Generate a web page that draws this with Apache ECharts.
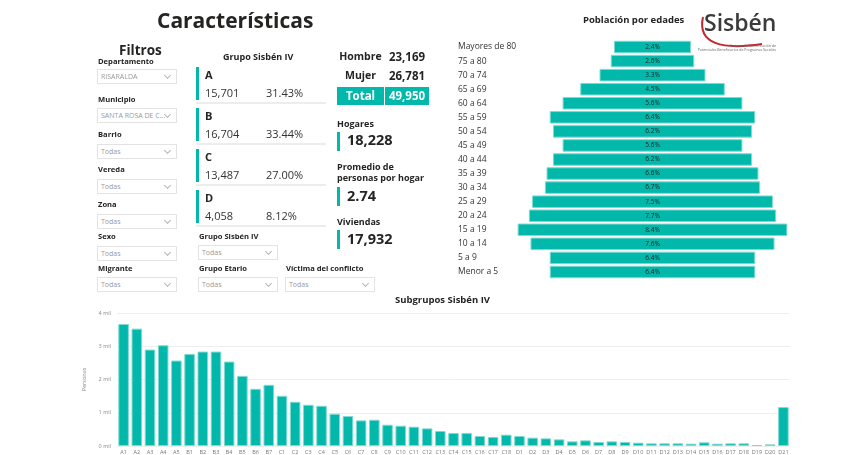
<!DOCTYPE html>
<html>
<head>
<meta charset="utf-8">
<script src="https://cdn.jsdelivr.net/npm/echarts@6/dist/echarts.min.js"></script>
<style>
  body { margin: 0; background: #fff; }
  #wrap { position: relative; width: 852px; height: 455px; overflow: hidden; font-family: 'Open Sans', sans-serif; color: #252423; }
  #chart { position: absolute; left: 0; top: 0; width: 852px; height: 455px; }
  .abs { position: absolute; white-space: nowrap; line-height: 1; }
  .dd { position: absolute; height: 13px; border: 1px solid #e3e3e3; font-size: 7px; color: #9a9a9a; line-height: 13px; padding-left: 3px; box-sizing: content-box; background: #fff; }
  .dd i { position: absolute; right: 6px; top: 3px; width: 4px; height: 4px; border-right: 1px solid #b5b5b5; border-bottom: 1px solid #b5b5b5; transform: rotate(45deg); }
  .tbar { position: absolute; width: 3px; background: #01B8AA; }
  .sep { position: absolute; height: 2px; background: #ededed; }
</style>
</head>
<body>
<div id="wrap">
  <div id="chart"></div>
  <div id="panel"></div>
</div>
<script>
// pirámide de edades (%)
var ageGroups = ['Mayores de 80', '75 a 80', '70 a 74', '65 a 69', '60 a 64', '55 a 59', '50 a 54', '45 a 49',
  '40 a 44', '35 a 39', '30 a 34', '25 a 29', '20 a 24', '15 a 19', '10 a 14', '5 a 9', 'Menor a 5'];
var agePct = [2.4, 2.6, 3.3, 4.5, 5.6, 6.4, 6.2, 5.6, 6.2, 6.6, 6.7, 7.5, 7.7, 8.4, 7.6, 6.4, 6.4];

// subgrupos sisben IV (personas)
var subgroups = ['A1', 'A2', 'A3', 'A4', 'A5', 'B1', 'B2', 'B3', 'B4', 'B5', 'B6', 'B7',
  'C1', 'C2', 'C3', 'C4', 'C5', 'C6', 'C7', 'C8', 'C9', 'C10', 'C11', 'C12', 'C13', 'C14', 'C15', 'C16', 'C17', 'C18',
  'D1', 'D2', 'D3', 'D4', 'D5', 'D6', 'D7', 'D8', 'D9', 'D10', 'D11', 'D12', 'D13', 'D14', 'D15', 'D16', 'D17', 'D18', 'D19', 'D20', 'D21'];
var subgroupPeople = [3670, 3530, 2900, 3030, 2570, 2770, 2840, 2840, 2540, 2110, 1720, 1840,
  1510, 1330, 1240, 1210, 970, 900, 770, 790, 640, 610, 580, 530, 450, 390, 390, 300, 270, 340,
  300, 250, 230, 200, 140, 170, 120, 140, 120, 100, 80, 80, 80, 70, 110, 70, 80, 80, 30, 50, 1170];
var yTicks = [0, 1000, 2000, 3000, 4000];

// tarjetas
var groupNames = ['A', 'B', 'C', 'D'];
var groupCounts = ['15,701', '16,704', '13,487', '4,058'];
var groupPcts = ['31.43%', '33.44%', '27.00%', '8.12%'];
var sexNames = ['Hombre', 'Mujer', 'Total'];
var sexCounts = ['23,169', '26,781', '49,950'];

var teal = '#01B8AA';
var fam = "'Open Sans', sans-serif";
var panel = document.getElementById('panel');

function put(html, x, y, size, css) {
  var d = document.createElement('div');
  d.className = 'abs';
  d.style.left = x + 'px';
  d.style.top = (y - size * 0.55) + 'px';
  d.style.fontSize = size + 'px';
  d.style.cssText += css || '';
  d.innerHTML = html;
  panel.appendChild(d);
  return d;
}
function box(cls, x, y, w, h, css) {
  var d = document.createElement('div');
  d.className = cls;
  d.style.left = x + 'px';
  d.style.top = y + 'px';
  d.style.width = w + 'px';
  if (h) d.style.height = h + 'px';
  d.style.cssText += css || '';
  panel.appendChild(d);
  return d;
}
function dropdown(label, value, x, ly, top, w) {
  put(label, x + 1, ly, 7.6, 'font-weight:bold;');
  var d = box('dd', x, top, w - 5, 0);
  d.innerHTML = value + '<i></i>';
}

// filtros
put('Filtros', 119, 51, 13.5, 'font-weight:bold;');
var filtros = [['Departamento', 'RISARALDA', 62, 69], ['Municipio', 'SANTA ROSA DE C...', 100, 108],
  ['Barrio', 'Todas', 135, 144], ['Vereda', 'Todas', 170, 179], ['Zona', 'Todas', 205, 214],
  ['Sexo', 'Todas', 237, 246], ['Migrante', 'Todas', 269, 277]];
filtros.forEach(function (f) { dropdown(f[0], f[1], 97, f[2], f[3], 80); });
dropdown('Grupo Sisbén IV', 'Todas', 198, 237, 245, 80);
dropdown('Grupo Etario', 'Todas', 198, 269, 277, 80);
dropdown('Víctima del conflicto', 'Todas', 285, 269, 277, 90);

// grupo sisben IV
put('Grupo Sisbén IV', 223, 57, 9, 'font-weight:bold;');
var cardTop = [67, 108, 149, 190];
groupNames.forEach(function (g, i) {
  var t = cardTop[i];
  box('tbar', 196, t, 3, 33);
  put(g, 205, t + 8, 11, 'font-weight:bold;');
  put(groupCounts[i], 205, t + 26, 11, 'color:#333;');
  put(groupPcts[i], 266, t + 26, 11, 'color:#333;');
  box('sep', 196, t + 35, 130, 2);
});

// hombre / mujer / total
put(sexNames[0], 337, 57, 10.5, 'font-weight:bold;width:47px;text-align:center;');
put(sexCounts[0], 385, 57, 11.5, 'font-weight:bold;width:44px;text-align:center;');
put(sexNames[1], 337, 76, 10.5, 'font-weight:bold;width:47px;text-align:center;');
put(sexCounts[1], 385, 76, 11.5, 'font-weight:bold;width:44px;text-align:center;');
box('abs', 337, 87, 92, 18, 'background:' + teal + ';');
box('abs', 384, 87, 1, 18, 'background:#fff;');
put(sexNames[2], 337, 96, 11.5, 'font-weight:bold;color:#fff;width:47px;text-align:center;');
put(sexCounts[2], 385, 96, 11.5, 'font-weight:bold;color:#fff;width:44px;text-align:center;');

// indicadores
put('Hogares', 337, 124, 9, 'font-weight:bold;');
box('tbar', 337, 132, 3, 19);
put('18,228', 347, 141, 14.5, 'font-weight:bold;');
put('Promedio de', 337, 167, 9, 'font-weight:bold;');
put('personas por hogar', 337, 178, 9, 'font-weight:bold;');
box('tbar', 337, 187, 3, 19);
put('2.74', 347, 197, 14.5, 'font-weight:bold;');
put('Viviendas', 337, 222, 9, 'font-weight:bold;');
box('tbar', 337, 230, 3, 19);
put('17,932', 347, 240, 14.5, 'font-weight:bold;');

// graficos
var chart = echarts.init(document.getElementById('chart'));
var pyrMax = 9;
var pyrBase = agePct.map(function (v) { return (pyrMax - v) / 2; });

var option = {
  animation: false,
  textStyle: { fontFamily: fam },
  title: [
    { text: 'Características', left: 157, top: 12, padding: 0, textStyle: { fontSize: 21, fontWeight: 'bold', color: '#252423', fontFamily: fam } },
    { text: 'Población por edades', left: 583, top: 15, padding: 0, textStyle: { fontSize: 9.5, fontWeight: 'bold', color: '#252423', fontFamily: fam } },
    { text: 'Subgrupos Sisbén IV', left: 395, top: 295, padding: 0, textStyle: { fontSize: 9.5, fontWeight: 'bold', color: '#252423', fontFamily: fam } }
  ],
  grid: [
    { left: 508, width: 289, top: 40, height: 239 },
    { left: 117, right: 62, top: 313, bottom: 8 }
  ],
  xAxis: [
    { gridIndex: 0, type: 'value', min: 0, max: pyrMax, show: false },
    {
      gridIndex: 1, type: 'category', data: subgroups,
      axisLine: { show: false }, axisTick: { show: false },
      axisLabel: { interval: 0, fontSize: 5.5, color: '#777', margin: 3 }
    }
  ],
  yAxis: [
    {
      gridIndex: 0, type: 'category', data: ageGroups, inverse: true,
      axisLine: { show: false }, axisTick: { show: false },
      axisLabel: { align: 'left', margin: 50, fontSize: 8.5, color: '#333' }
    },
    {
      gridIndex: 1, type: 'value', min: yTicks[0], max: yTicks[yTicks.length - 1], interval: 1000,
      axisLine: { show: false }, axisTick: { show: false },
      axisLabel: { fontSize: 5.5, color: '#888', margin: 6, formatter: function (v) { return v / 1000 + ' mil'; } },
      splitLine: { lineStyle: { color: '#eeeeee' } },
      name: 'Personas', nameLocation: 'middle', nameGap: 24,
      nameTextStyle: { fontSize: 5.5, color: '#888' }
    }
  ],
  series: [
    {
      type: 'bar', xAxisIndex: 0, yAxisIndex: 0, stack: 'pyr', data: pyrBase,
      barWidth: 12.5, itemStyle: { color: 'transparent' }, silent: true
    },
    {
      type: 'bar', xAxisIndex: 0, yAxisIndex: 0, stack: 'pyr', data: agePct,
      barWidth: 12.5,
      itemStyle: { color: teal, borderColor: '#7fdad2', borderWidth: 1 },
      label: {
        show: true, position: 'inside', fontSize: 6.5, color: '#252423',
        formatter: function (p) { return p.value.toFixed(1) + '%'; }
      }
    },
    {
      type: 'bar', xAxisIndex: 1, yAxisIndex: 1, data: subgroupPeople,
      barCategoryGap: '20%',
      itemStyle: { color: teal, borderColor: '#7fdad2', borderWidth: 1 }
    }
  ],
  graphic: [
    {
      type: 'bezierCurve', silent: true,
      shape: { x1: 703, y1: 17, cpx1: 697, cpy1: 44, cpx2: 722, cpy2: 50, x2: 762, y2: 44 },
      style: { stroke: '#c4262e', lineWidth: 2, fill: null }
    },
    {
      type: 'text', silent: true,
      style: { text: 'Sisbén', x: 704, y: 13, font: '600 23px ' + fam, fill: '#3b3b3b' }
    },
    {
      type: 'text', silent: true,
      style: { text: 'Sistema de Identificación de\nPotenciales Beneficiarios de Programas Sociales', x: 776, y: 44, font: '3.5px ' + fam, fill: '#666', align: 'right', lineHeight: 4 }
    }
  ]
};
chart.setOption(option);
window.addEventListener('resize', function () { chart.resize(); });
</script>
</body>
</html>
